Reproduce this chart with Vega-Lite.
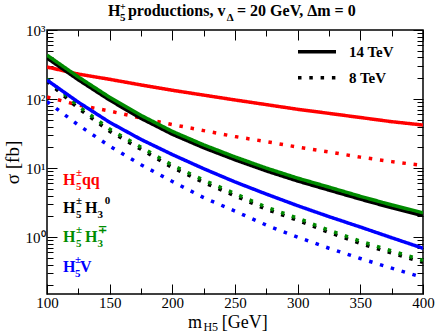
{
  "$schema": "https://vega.github.io/schema/vega-lite/v6.json",
  "width": 376,
  "height": 264,
  "padding": {"left": 47, "top": 30, "right": 13, "bottom": 42},
  "autosize": {"type": "none"},
  "background": "white",
  "view": {"stroke": "black", "strokeWidth": 1.5},
  "config": {"font": "Liberation Serif"},
  "datasets": {
    "curves": [
      {"m": 100, "sigma": 291, "process": "qq", "energy": "14 TeV"},
      {"m": 125, "sigma": 230, "process": "qq", "energy": "14 TeV"},
      {"m": 150, "sigma": 193, "process": "qq", "energy": "14 TeV"},
      {"m": 175, "sigma": 160, "process": "qq", "energy": "14 TeV"},
      {"m": 200, "sigma": 134, "process": "qq", "energy": "14 TeV"},
      {"m": 225, "sigma": 114, "process": "qq", "energy": "14 TeV"},
      {"m": 250, "sigma": 97, "process": "qq", "energy": "14 TeV"},
      {"m": 275, "sigma": 83, "process": "qq", "energy": "14 TeV"},
      {"m": 300, "sigma": 71, "process": "qq", "energy": "14 TeV"},
      {"m": 325, "sigma": 62, "process": "qq", "energy": "14 TeV"},
      {"m": 350, "sigma": 54, "process": "qq", "energy": "14 TeV"},
      {"m": 375, "sigma": 47, "process": "qq", "energy": "14 TeV"},
      {"m": 400, "sigma": 42, "process": "qq", "energy": "14 TeV"},
      {"m": 100, "sigma": 107, "process": "qq", "energy": "8 TeV"},
      {"m": 125, "sigma": 82, "process": "qq", "energy": "8 TeV"},
      {"m": 150, "sigma": 67, "process": "qq", "energy": "8 TeV"},
      {"m": 175, "sigma": 53, "process": "qq", "energy": "8 TeV"},
      {"m": 200, "sigma": 42.7, "process": "qq", "energy": "8 TeV"},
      {"m": 225, "sigma": 34.9, "process": "qq", "energy": "8 TeV"},
      {"m": 250, "sigma": 28.6, "process": "qq", "energy": "8 TeV"},
      {"m": 275, "sigma": 24.2, "process": "qq", "energy": "8 TeV"},
      {"m": 300, "sigma": 20.1, "process": "qq", "energy": "8 TeV"},
      {"m": 325, "sigma": 17.1, "process": "qq", "energy": "8 TeV"},
      {"m": 350, "sigma": 14.4, "process": "qq", "energy": "8 TeV"},
      {"m": 375, "sigma": 12.4, "process": "qq", "energy": "8 TeV"},
      {"m": 400, "sigma": 10.9, "process": "qq", "energy": "8 TeV"},
      {"m": 100, "sigma": 393, "process": "H30", "energy": "14 TeV"},
      {"m": 125, "sigma": 190, "process": "H30", "energy": "14 TeV"},
      {"m": 150, "sigma": 96.6, "process": "H30", "energy": "14 TeV"},
      {"m": 175, "sigma": 52.5, "process": "H30", "energy": "14 TeV"},
      {"m": 200, "sigma": 30.9, "process": "H30", "energy": "14 TeV"},
      {"m": 225, "sigma": 19.7, "process": "H30", "energy": "14 TeV"},
      {"m": 250, "sigma": 13.2, "process": "H30", "energy": "14 TeV"},
      {"m": 275, "sigma": 9.1, "process": "H30", "energy": "14 TeV"},
      {"m": 300, "sigma": 6.5, "process": "H30", "energy": "14 TeV"},
      {"m": 325, "sigma": 4.8, "process": "H30", "energy": "14 TeV"},
      {"m": 350, "sigma": 3.55, "process": "H30", "energy": "14 TeV"},
      {"m": 375, "sigma": 2.66, "process": "H30", "energy": "14 TeV"},
      {"m": 400, "sigma": 2.05, "process": "H30", "energy": "14 TeV"},
      {"m": 100, "sigma": 181, "process": "H30", "energy": "8 TeV"},
      {"m": 125, "sigma": 73.5, "process": "H30", "energy": "8 TeV"},
      {"m": 150, "sigma": 34.1, "process": "H30", "energy": "8 TeV"},
      {"m": 175, "sigma": 18.7, "process": "H30", "energy": "8 TeV"},
      {"m": 200, "sigma": 10.2, "process": "H30", "energy": "8 TeV"},
      {"m": 225, "sigma": 6.2, "process": "H30", "energy": "8 TeV"},
      {"m": 250, "sigma": 3.97, "process": "H30", "energy": "8 TeV"},
      {"m": 275, "sigma": 2.53, "process": "H30", "energy": "8 TeV"},
      {"m": 300, "sigma": 1.75, "process": "H30", "energy": "8 TeV"},
      {"m": 325, "sigma": 1.17, "process": "H30", "energy": "8 TeV"},
      {"m": 350, "sigma": 0.81, "process": "H30", "energy": "8 TeV"},
      {"m": 375, "sigma": 0.586, "process": "H30", "energy": "8 TeV"},
      {"m": 400, "sigma": 0.43, "process": "H30", "energy": "8 TeV"},
      {"m": 100, "sigma": 432, "process": "H3pm", "energy": "14 TeV"},
      {"m": 125, "sigma": 209, "process": "H3pm", "energy": "14 TeV"},
      {"m": 150, "sigma": 106, "process": "H3pm", "energy": "14 TeV"},
      {"m": 175, "sigma": 58, "process": "H3pm", "energy": "14 TeV"},
      {"m": 200, "sigma": 34, "process": "H3pm", "energy": "14 TeV"},
      {"m": 225, "sigma": 21.7, "process": "H3pm", "energy": "14 TeV"},
      {"m": 250, "sigma": 14.5, "process": "H3pm", "energy": "14 TeV"},
      {"m": 275, "sigma": 10, "process": "H3pm", "energy": "14 TeV"},
      {"m": 300, "sigma": 7.15, "process": "H3pm", "energy": "14 TeV"},
      {"m": 325, "sigma": 5.3, "process": "H3pm", "energy": "14 TeV"},
      {"m": 350, "sigma": 3.9, "process": "H3pm", "energy": "14 TeV"},
      {"m": 375, "sigma": 2.93, "process": "H3pm", "energy": "14 TeV"},
      {"m": 400, "sigma": 2.25, "process": "H3pm", "energy": "14 TeV"},
      {"m": 100, "sigma": 195, "process": "H3pm", "energy": "8 TeV"},
      {"m": 125, "sigma": 79, "process": "H3pm", "energy": "8 TeV"},
      {"m": 150, "sigma": 36.7, "process": "H3pm", "energy": "8 TeV"},
      {"m": 175, "sigma": 20.1, "process": "H3pm", "energy": "8 TeV"},
      {"m": 200, "sigma": 11.0, "process": "H3pm", "energy": "8 TeV"},
      {"m": 225, "sigma": 6.7, "process": "H3pm", "energy": "8 TeV"},
      {"m": 250, "sigma": 4.27, "process": "H3pm", "energy": "8 TeV"},
      {"m": 275, "sigma": 2.72, "process": "H3pm", "energy": "8 TeV"},
      {"m": 300, "sigma": 1.88, "process": "H3pm", "energy": "8 TeV"},
      {"m": 325, "sigma": 1.26, "process": "H3pm", "energy": "8 TeV"},
      {"m": 350, "sigma": 0.875, "process": "H3pm", "energy": "8 TeV"},
      {"m": 375, "sigma": 0.63, "process": "H3pm", "energy": "8 TeV"},
      {"m": 400, "sigma": 0.46, "process": "H3pm", "energy": "8 TeV"},
      {"m": 100, "sigma": 188, "process": "V", "energy": "14 TeV"},
      {"m": 125, "sigma": 90, "process": "V", "energy": "14 TeV"},
      {"m": 150, "sigma": 46, "process": "V", "energy": "14 TeV"},
      {"m": 175, "sigma": 26, "process": "V", "energy": "14 TeV"},
      {"m": 200, "sigma": 15.7, "process": "V", "energy": "14 TeV"},
      {"m": 225, "sigma": 9.8, "process": "V", "energy": "14 TeV"},
      {"m": 250, "sigma": 6.3, "process": "V", "energy": "14 TeV"},
      {"m": 275, "sigma": 4.2, "process": "V", "energy": "14 TeV"},
      {"m": 300, "sigma": 2.85, "process": "V", "energy": "14 TeV"},
      {"m": 325, "sigma": 1.98, "process": "V", "energy": "14 TeV"},
      {"m": 350, "sigma": 1.40, "process": "V", "energy": "14 TeV"},
      {"m": 375, "sigma": 0.98, "process": "V", "energy": "14 TeV"},
      {"m": 400, "sigma": 0.69, "process": "V", "energy": "14 TeV"},
      {"m": 100, "sigma": 92, "process": "V", "energy": "8 TeV"},
      {"m": 125, "sigma": 42, "process": "V", "energy": "8 TeV"},
      {"m": 150, "sigma": 20.8, "process": "V", "energy": "8 TeV"},
      {"m": 175, "sigma": 11.2, "process": "V", "energy": "8 TeV"},
      {"m": 200, "sigma": 6.4, "process": "V", "energy": "8 TeV"},
      {"m": 225, "sigma": 3.73, "process": "V", "energy": "8 TeV"},
      {"m": 250, "sigma": 2.38, "process": "V", "energy": "8 TeV"},
      {"m": 275, "sigma": 1.49, "process": "V", "energy": "8 TeV"},
      {"m": 300, "sigma": 1.0, "process": "V", "energy": "8 TeV"},
      {"m": 325, "sigma": 0.69, "process": "V", "energy": "8 TeV"},
      {"m": 350, "sigma": 0.49, "process": "V", "energy": "8 TeV"},
      {"m": 375, "sigma": 0.355, "process": "V", "energy": "8 TeV"},
      {"m": 400, "sigma": 0.26, "process": "V", "energy": "8 TeV"}
    ],
    "annot": [
      {"role": "lab", "process": "qq", "text": "H", "m": 112.8, "sigma": 5.68},
      {"role": "labsup", "process": "qq", "text": "±", "m": 123.1, "sigma": 5.68},
      {"role": "labsub", "process": "qq", "text": "5", "m": 123.1, "sigma": 5.68},
      {"role": "lab", "process": "qq", "text": "qq", "m": 127.9, "sigma": 5.68},
      {"role": "lab", "process": "H30", "text": "H", "m": 112.8, "sigma": 2.23},
      {"role": "labsup", "process": "H30", "text": "±", "m": 123.1, "sigma": 2.23},
      {"role": "labsub", "process": "H30", "text": "5", "m": 123.1, "sigma": 2.23},
      {"role": "lab", "process": "H30", "text": "H", "m": 130.3, "sigma": 2.23},
      {"role": "labsub", "process": "H30", "text": "3", "m": 140.3, "sigma": 2.23},
      {"role": "labsup", "process": "H30", "text": "0", "m": 146.0, "sigma": 2.23},
      {"role": "lab", "process": "H3pm", "text": "H", "m": 112.8, "sigma": 0.847},
      {"role": "labsup", "process": "H3pm", "text": "±", "m": 123.1, "sigma": 0.847},
      {"role": "labsub", "process": "H3pm", "text": "5", "m": 123.1, "sigma": 0.847},
      {"role": "lab", "process": "H3pm", "text": "H", "m": 130.3, "sigma": 0.847},
      {"role": "labsub", "process": "H3pm", "text": "3", "m": 140.3, "sigma": 0.847},
      {"role": "labsup", "process": "H3pm", "text": "∓", "m": 140.3, "sigma": 0.847},
      {"role": "lab", "process": "V", "text": "H", "m": 112.8, "sigma": 0.311},
      {"role": "labsup", "process": "V", "text": "±", "m": 122.3, "sigma": 0.311},
      {"role": "labsub", "process": "V", "text": "5", "m": 122.3, "sigma": 0.311},
      {"role": "lab", "process": "V", "text": "V", "m": 126.3, "sigma": 0.311},
      {"role": "tit", "text": "H", "m": 148.7, "sigma": 1596},
      {"role": "titsub", "text": "5", "m": 158.2, "sigma": 1596},
      {"role": "titsup", "text": "+", "m": 158.2, "sigma": 1596},
      {"role": "tit", "text": "productions, v", "m": 164.6, "sigma": 1596},
      {"role": "titsub", "text": "Δ", "m": 243.5, "sigma": 1596},
      {"role": "tit", "text": "= 20 GeV, Δm = 0", "m": 251.6, "sigma": 1596},
      {"role": "xt", "text": "m", "m": 212.5, "sigma": 0.048},
      {"role": "xtsub", "text": "H5", "m": 224.8, "sigma": 0.048},
      {"role": "xt", "text": "[GeV]", "m": 239.5, "sigma": 0.048}
    ]
  },
  "layer": [
    {
      "data": {"name": "curves"},
      "mark": {"type": "line", "strokeWidth": 3.5, "strokeCap": "butt", "clip": true},
      "encoding": {
        "x": {
          "field": "m", "type": "quantitative",
          "scale": {"domain": [100, 400], "nice": false, "zero": false},
          "axis": {
            "orient": "bottom",
            "values": [100, 125, 150, 175, 200, 225, 250, 275, 300, 325, 350, 375, 400],
            "labelExpr": "datum.value % 50 == 0 ? datum.label : ''",
            "tickSize": {"condition": {"test": "datum.value % 50 == 0", "value": -10}, "value": -6},
            "labelPadding": 11,
            "labelFont": "Liberation Serif", "labelFontSize": 15, "labelColor": "black",
            "labelFlush": false, "labelOverlap": false,
            "domain": false, "grid": false, "title": null, "tickColor": "black", "tickWidth": 1
          }
        },
        "y": {
          "field": "sigma", "type": "quantitative",
          "scale": {"type": "log", "domain": [0.15, 1000], "nice": false},
          "axis": {
            "orient": "left",
            "values": [0.2, 0.3, 0.4, 0.5, 0.6, 0.7, 0.8, 0.9, 1, 2, 3, 4, 5, 6, 7, 8, 9, 10, 20, 30, 40, 50, 60, 70, 80, 90, 100, 200, 300, 400, 500, 600, 700, 800, 900, 1000],
            "labelExpr": "datum.value == 1000 ? '10³' : datum.value == 100 ? '10²' : datum.value == 10 ? '10¹' : datum.value == 1 ? '10⁰' : ''",
            "tickSize": {"condition": {"test": "indexof([1, 10, 100, 1000], datum.value) >= 0", "value": -10}, "value": -6},
            "labelPadding": 12,
            "labelFont": "Liberation Serif", "labelFontSize": 15, "labelColor": "black",
            "labelFlush": false, "labelOverlap": false,
            "domain": false, "grid": false, "tickColor": "black", "tickWidth": 1,
            "title": "σ [fb]", "titleFont": "Liberation Serif", "titleFontSize": 19,
            "titleFontWeight": "normal", "titleColor": "black", "titlePadding": 3
          }
        },
        "color": {
          "field": "process", "type": "nominal",
          "scale": {"domain": ["qq", "H30", "H3pm", "V"], "range": ["#ff0000", "#000000", "#008b00", "#0000ff"]},
          "legend": null
        },
        "strokeDash": {
          "field": "energy", "type": "nominal",
          "scale": {"domain": ["14 TeV", "8 TeV"], "range": [[1, 0], [3.5, 7.8]]},
          "legend": {
            "orient": "none", "legendX": 249, "legendY": 8.7, "title": null,
            "symbolType": "stroke", "symbolSize": 1444, "symbolStrokeWidth": 3.5,
            "symbolStrokeColor": "black", "labelFont": "Liberation Serif", "labelFontSize": 15,
            "labelFontWeight": "bold", "labelColor": "black", "labelOffset": 11,
            "clipHeight": 26, "rowPadding": 0, "padding": 0
          }
        }
      }
    },
    {
      "data": {"name": "annot"},
      "transform": [{"filter": "datum.role == 'tit'"}],
      "mark": {"type": "text", "align": "left", "baseline": "alphabetic", "font": "Liberation Serif", "fontSize": 16, "fontWeight": "bold", "color": "black"},
      "encoding": {
        "x": {
          "field": "m", "type": "quantitative",
          "scale": {"domain": [100, 400], "nice": false, "zero": false},
          "axis": {
            "orient": "top",
            "values": [100, 125, 150, 175, 200, 225, 250, 275, 300, 325, 350, 375, 400],
            "tickSize": {"condition": {"test": "datum.value % 50 == 0", "value": -10}, "value": -6},
            "labels": false, "domain": false, "grid": false, "title": null, "tickColor": "black", "tickWidth": 1
          }
        },
        "y": {
          "field": "sigma", "type": "quantitative",
          "scale": {"type": "log", "domain": [0.15, 1000], "nice": false},
          "axis": {
            "orient": "right",
            "values": [0.2, 0.3, 0.4, 0.5, 0.6, 0.7, 0.8, 0.9, 1, 2, 3, 4, 5, 6, 7, 8, 9, 10, 20, 30, 40, 50, 60, 70, 80, 90, 100, 200, 300, 400, 500, 600, 700, 800, 900, 1000],
            "tickSize": {"condition": {"test": "indexof([1, 10, 100, 1000], datum.value) >= 0", "value": -10}, "value": -6},
            "labels": false, "domain": false, "grid": false, "title": null, "tickColor": "black", "tickWidth": 1
          }
        },
        "text": {"field": "text", "type": "nominal"}
      }
    },
    {
      "data": {"name": "annot"},
      "transform": [{"filter": "datum.role == 'titsub'"}],
      "mark": {"type": "text", "align": "left", "baseline": "alphabetic", "font": "Liberation Serif", "fontSize": 11, "fontWeight": "bold", "color": "black", "dy": 5},
      "encoding": {
        "x": {"field": "m", "type": "quantitative", "scale": {"domain": [100, 400], "nice": false, "zero": false}, "axis": null},
        "y": {"field": "sigma", "type": "quantitative", "scale": {"type": "log", "domain": [0.15, 1000], "nice": false}, "axis": null},
        "text": {"field": "text", "type": "nominal"}
      }
    },
    {
      "data": {"name": "annot"},
      "transform": [{"filter": "datum.role == 'titsup'"}],
      "mark": {"type": "text", "align": "left", "baseline": "alphabetic", "font": "Liberation Serif", "fontSize": 10, "fontWeight": "bold", "color": "black", "dy": -6},
      "encoding": {
        "x": {"field": "m", "type": "quantitative", "scale": {"domain": [100, 400], "nice": false, "zero": false}, "axis": null},
        "y": {"field": "sigma", "type": "quantitative", "scale": {"type": "log", "domain": [0.15, 1000], "nice": false}, "axis": null},
        "text": {"field": "text", "type": "nominal"}
      }
    },
    {
      "data": {"name": "annot"},
      "transform": [{"filter": "datum.role == 'xt'"}],
      "mark": {"type": "text", "align": "left", "baseline": "alphabetic", "font": "Liberation Serif", "fontSize": 18, "color": "black"},
      "encoding": {
        "x": {"field": "m", "type": "quantitative", "scale": {"domain": [100, 400], "nice": false, "zero": false}, "axis": null},
        "y": {"field": "sigma", "type": "quantitative", "scale": {"type": "log", "domain": [0.15, 1000], "nice": false}, "axis": null},
        "text": {"field": "text", "type": "nominal"}
      }
    },
    {
      "data": {"name": "annot"},
      "transform": [{"filter": "datum.role == 'xtsub'"}],
      "mark": {"type": "text", "align": "left", "baseline": "alphabetic", "font": "Liberation Serif", "fontSize": 12, "color": "black", "dy": 3},
      "encoding": {
        "x": {"field": "m", "type": "quantitative", "scale": {"domain": [100, 400], "nice": false, "zero": false}, "axis": null},
        "y": {"field": "sigma", "type": "quantitative", "scale": {"type": "log", "domain": [0.15, 1000], "nice": false}, "axis": null},
        "text": {"field": "text", "type": "nominal"}
      }
    },
    {
      "data": {"name": "annot"},
      "transform": [{"filter": "datum.role == 'lab'"}],
      "mark": {"type": "text", "align": "left", "baseline": "alphabetic", "font": "Liberation Serif", "fontSize": 16, "fontWeight": "bold"},
      "encoding": {
        "x": {"field": "m", "type": "quantitative", "scale": {"domain": [100, 400], "nice": false, "zero": false}, "axis": null},
        "y": {"field": "sigma", "type": "quantitative", "scale": {"type": "log", "domain": [0.15, 1000], "nice": false}, "axis": null},
        "text": {"field": "text", "type": "nominal"},
        "color": {"field": "process", "type": "nominal", "legend": null}
      }
    },
    {
      "data": {"name": "annot"},
      "transform": [{"filter": "datum.role == 'labsub'"}],
      "mark": {"type": "text", "align": "left", "baseline": "alphabetic", "font": "Liberation Serif", "fontSize": 11, "fontWeight": "bold", "dy": 5},
      "encoding": {
        "x": {"field": "m", "type": "quantitative", "scale": {"domain": [100, 400], "nice": false, "zero": false}, "axis": null},
        "y": {"field": "sigma", "type": "quantitative", "scale": {"type": "log", "domain": [0.15, 1000], "nice": false}, "axis": null},
        "text": {"field": "text", "type": "nominal"},
        "color": {"field": "process", "type": "nominal", "legend": null}
      }
    },
    {
      "data": {"name": "annot"},
      "transform": [{"filter": "datum.role == 'labsup'"}],
      "mark": {"type": "text", "align": "left", "baseline": "alphabetic", "font": "Liberation Serif", "fontSize": 11, "fontWeight": "bold", "dy": -9},
      "encoding": {
        "x": {"field": "m", "type": "quantitative", "scale": {"domain": [100, 400], "nice": false, "zero": false}, "axis": null},
        "y": {"field": "sigma", "type": "quantitative", "scale": {"type": "log", "domain": [0.15, 1000], "nice": false}, "axis": null},
        "text": {"field": "text", "type": "nominal"},
        "color": {"field": "process", "type": "nominal", "legend": null}
      }
    }
  ],
  "resolve": {"axis": {"x": "independent", "y": "independent"}}
}
